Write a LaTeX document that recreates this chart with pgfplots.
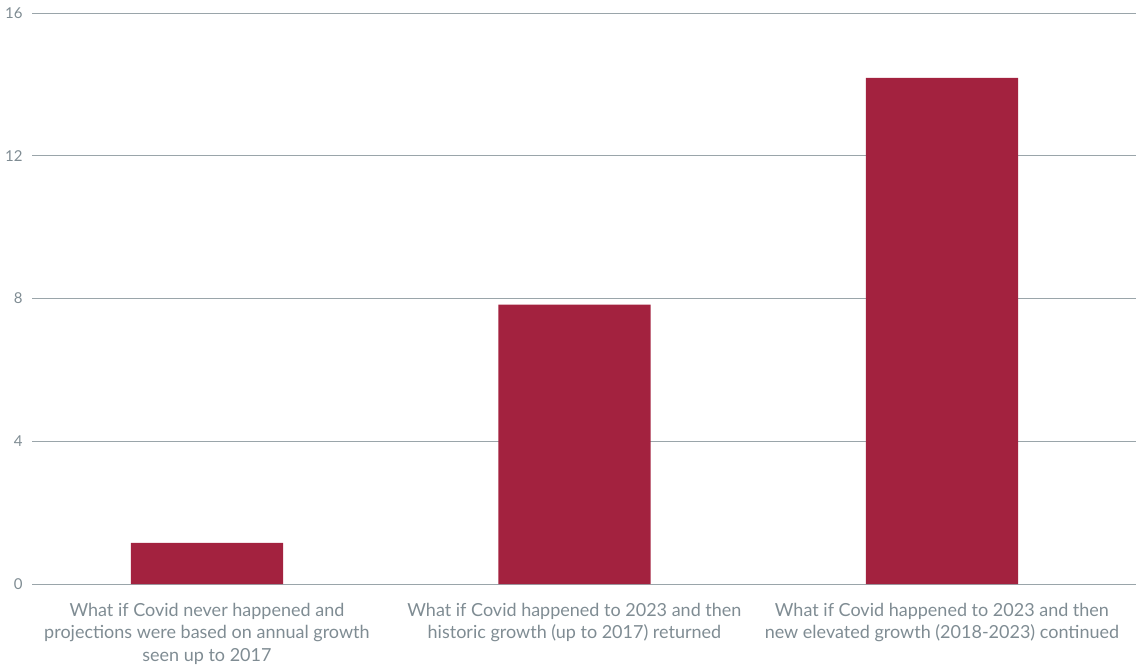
\documentclass[border=0pt]{standalone}
\usepackage{pgfplots}
\pgfplotsset{compat=1.18}
\usepackage{fontspec}
\setmainfont{Lato}
\definecolor{barred}{HTML}{A3223F}
\definecolor{gridgray}{HTML}{9AA5AA}
\definecolor{txtgray}{HTML}{7F8C93}
\begin{document}
\begin{tikzpicture}
\useasboundingbox (0,0) rectangle (1136pt,-665pt);
\begin{axis}[
  at={(32pt,-584pt)}, anchor=south west,
  scale only axis, width=1104pt, height=571pt,
  xmin=-0.476, xmax=2.528, ymin=0, ymax=16,
  ybar, bar width=0.414, bar shift=0pt,
  axis line style={draw=none},
  ytick={0,4,8,12,16},
  ymajorgrids, major grid style={gridgray, line width=1pt},
  tick style={draw=none},
  xtick={0,1,2},
  xticklabels={{What if Covid never happened and\\projections were based on annual growth\\seen up to 2017},
               {What if Covid happened to 2023 and then\\historic growth (up to 2017) returned},
               {What if Covid happened to 2023 and then\\new elevated growth (2018-2023) continued}},
  xticklabel style={align=center, text=txtgray, font=\fontsize{18}{22.5}\selectfont, anchor=north, yshift=-11pt},
  yticklabel style={text=txtgray, font=\fontsize{15}{16}\selectfont, anchor=east, xshift=-6pt},
  /pgf/number format/assume math mode=true,
  clip=false,
]
\addplot[fill=barred, draw=none] coordinates {(0,1.15) (1,7.83) (2,14.18)};
\end{axis}
\end{tikzpicture}
\end{document}
